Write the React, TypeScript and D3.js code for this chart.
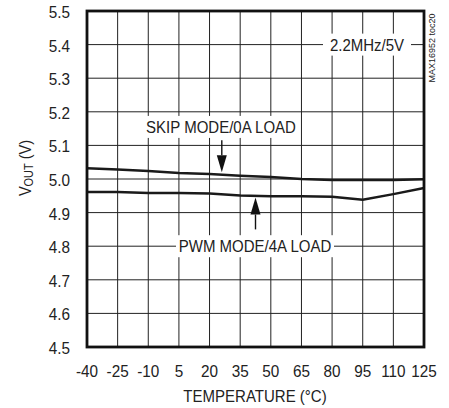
import React from "react";
import * as d3 from "d3";

const temps = [-40, -25, -10, 5, 20, 35, 50, 65, 80, 95, 110, 125];
const skipMode = [5.032, 5.028, 5.024, 5.018, 5.015, 5.01, 5.006, 5.0, 4.997, 4.997, 4.997, 4.999];
const pwmMode = [4.961, 4.961, 4.958, 4.958, 4.957, 4.951, 4.949, 4.949, 4.947, 4.938, 4.955, 4.973];
const yTicks = [4.5, 4.6, 4.7, 4.8, 4.9, 5.0, 5.1, 5.2, 5.3, 5.4, 5.5];

const W = 449;
const H = 408;
const M = { left: 87, right: 424, top: 11, bottom: 347 };
const FONT = "'Liberation Sans', Arial, Helvetica, sans-serif";
const SX = 0.91;

function T({
  x,
  y,
  children,
  fs = 16.5,
  anchor = "middle",
  rotate = 0,
}: {
  x: number;
  y: number;
  children: React.ReactNode;
  fs?: number;
  anchor?: "start" | "middle" | "end";
  rotate?: number;
}) {
  return (
    <text
      transform={`translate(${x},${y}) rotate(${rotate}) scale(${SX},1)`}
      textAnchor={anchor}
      fontSize={fs}
      fontFamily={FONT}
      fill="#222"
    >
      {children}
    </text>
  );
}

export default function App() {
  const x = d3.scaleLinear().domain([-40, 125]).range([M.left, M.right]);
  const y = d3.scaleLinear().domain([4.5, 5.5]).range([M.bottom, M.top]);
  const line = d3
    .line<number>()
    .x((_, i) => x(temps[i]))
    .y((d) => y(d));

  const arrow = (cx: number, tipY: number, tailY: number) => {
    const dir = tailY < tipY ? 1 : -1;
    const headLen = 17;
    const baseY = tipY - dir * headLen;
    return (
      <g>
        <line x1={cx} x2={cx} y1={tailY} y2={baseY} stroke="#111" strokeWidth={1.4} />
        <path d={`M${cx - 5},${baseY} L${cx + 5},${baseY} L${cx},${tipY} Z`} fill="#111" />
      </g>
    );
  };

  const labelBox = (text: string, cx: number, cy: number, w: number) => (
    <g>
      <rect x={cx - w / 2} y={cy - 11} width={w} height={22} fill="#fff" />
      <T x={cx} y={cy + 6}>{text}</T>
    </g>
  );

  return (
    <svg width={W} height={H} style={{ position: "absolute", left: 0, top: 0, background: "#fff" }}>
      {temps.map((t) => (
        <line key={"vx" + t} x1={x(t)} x2={x(t)} y1={M.top} y2={M.bottom} stroke="#222" strokeWidth={1} />
      ))}
      {yTicks.map((v) => (
        <line key={"hy" + v} x1={M.left} x2={M.right} y1={y(v)} y2={y(v)} stroke="#222" strokeWidth={1} />
      ))}

      {labelBox("2.2MHz/5V", 367, y(5.4), 88)}
      {labelBox("SKIP MODE/0A LOAD", 221, y(5.155), 158)}
      {labelBox("PWM MODE/4A LOAD", 255, y(4.8), 158)}

      <path d={line(skipMode) || ""} fill="none" stroke="#1a1a1a" strokeWidth={2.5} />
      <path d={line(pwmMode) || ""} fill="none" stroke="#1a1a1a" strokeWidth={2.5} />

      {arrow(x(26), y(5.02), y(5.115))}
      {arrow(x(42.5), y(4.945), y(4.85))}

      <rect
        x={M.left}
        y={M.top}
        width={M.right - M.left}
        height={M.bottom - M.top}
        fill="none"
        stroke="#111"
        strokeWidth={2.8}
      />

      {yTicks.map((v) => (
        <T key={"yl" + v} x={70} y={y(v) + 7} fs={16.8} anchor="end">
          {v.toFixed(1)}
        </T>
      ))}
      {temps.map((t) => (
        <T key={"xl" + t} x={x(t)} y={377} fs={16.8}>
          {t}
        </T>
      ))}

      <T x={255} y={402}>TEMPERATURE (°C)</T>
      <T x={31} y={168} rotate={-90} fs={16}>
        V<tspan fontSize={12} dy={2}>OUT</tspan>
        <tspan dy={-2}> (V)</tspan>
      </T>

      <text
        transform={`translate(435,48) rotate(-90)`}
        textAnchor="middle"
        fontSize={9}
        fontFamily={FONT}
        fill="#222"
      >
        MAX16952 toc20
      </text>
    </svg>
  );
}
